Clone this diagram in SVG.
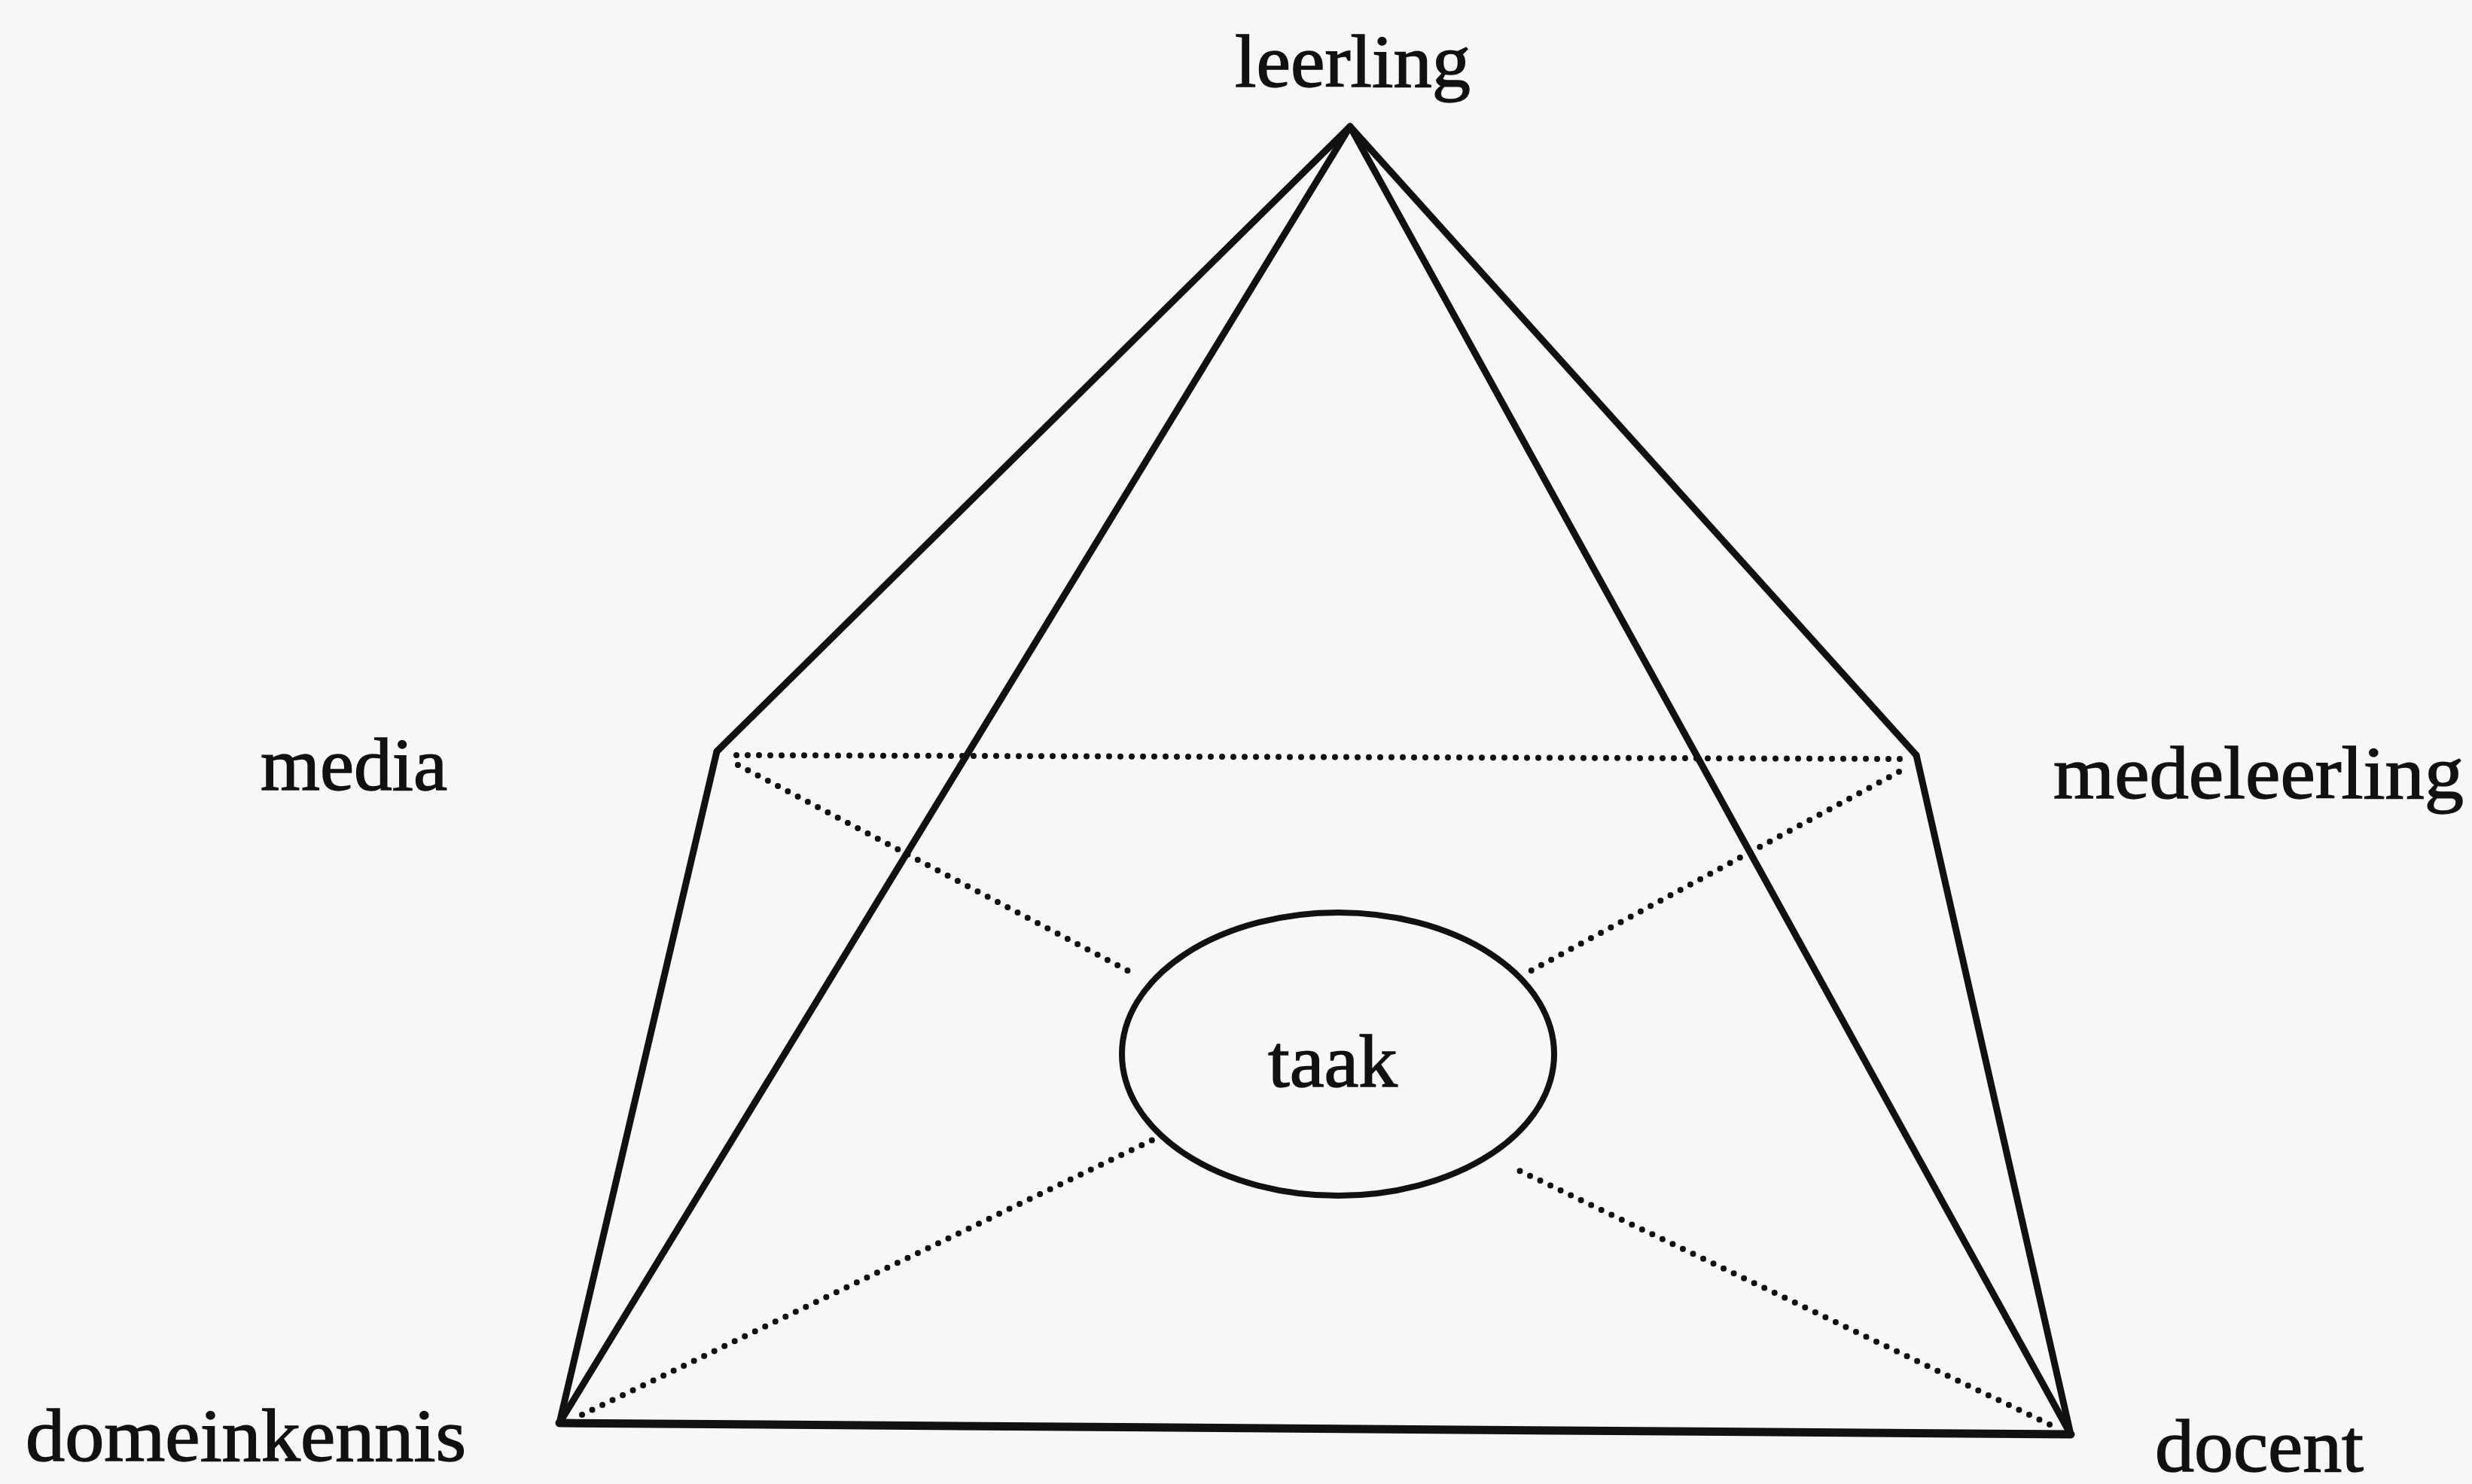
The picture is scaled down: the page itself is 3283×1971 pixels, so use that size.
<svg xmlns="http://www.w3.org/2000/svg" width="3283" height="1971" viewBox="0 0 3283 1971">
<style>
.lbl{font-family:"Liberation Serif","Times New Roman",serif;font-size:100px;fill:#111;stroke:#111;stroke-width:1.5}
.solid{stroke:#111;stroke-width:9;fill:none;stroke-linecap:round;stroke-linejoin:round}
.dot{stroke:#111;stroke-width:8;fill:none;stroke-linecap:round;stroke-dasharray:0 15}
</style>
<rect width="3283" height="1971" fill="#f7f7f6"/>
<g id="connectors">
<line class="solid" x1="1793" y1="168" x2="952" y2="998"/>
<line class="solid" x1="1793" y1="168" x2="743" y2="1890"/>
<line class="solid" x1="1793" y1="168" x2="2750" y2="1905"/>
<line class="solid" x1="1793" y1="168" x2="2545" y2="1003"/>
<line class="solid" x1="952" y1="998" x2="743" y2="1890"/>
<line class="solid" x1="2545" y1="1003" x2="2750" y2="1905"/>
<line class="solid" style="stroke-width:11" x1="743" y1="1890" x2="2750" y2="1905"/>
<line class="dot" x1="978" y1="1003" x2="2523" y2="1008"/>
<line class="dot" x1="980" y1="1016" x2="1507" y2="1294"/>
<line class="dot" x1="2522" y1="1025" x2="2028" y2="1292"/>
<line class="dot" x1="773" y1="1879" x2="1537" y2="1511"/>
<line class="dot" x1="2722" y1="1892" x2="2014" y2="1553"/>
</g>
<g id="leerling"><text class="lbl" x="1640" y="115" textLength="313" lengthAdjust="spacingAndGlyphs">leerling</text></g>
<g id="media"><text class="lbl" x="346" y="1049" textLength="248" lengthAdjust="spacingAndGlyphs">media</text></g>
<g id="medeleerling"><text class="lbl" x="2727" y="1060" textLength="545" lengthAdjust="spacingAndGlyphs">medeleerling</text></g>
<g id="domeinkennis"><text class="lbl" x="34" y="1940" textLength="585" lengthAdjust="spacingAndGlyphs">domeinkennis</text></g>
<g id="docent"><text class="lbl" x="2862" y="1954" textLength="277" lengthAdjust="spacingAndGlyphs">docent</text></g>
<g id="taak">
<ellipse cx="1777" cy="1400" rx="287" ry="188" fill="none" stroke="#111" stroke-width="8"/>
<text class="lbl" x="1684" y="1443" textLength="172" lengthAdjust="spacingAndGlyphs">taak</text>
</g>
</svg>
